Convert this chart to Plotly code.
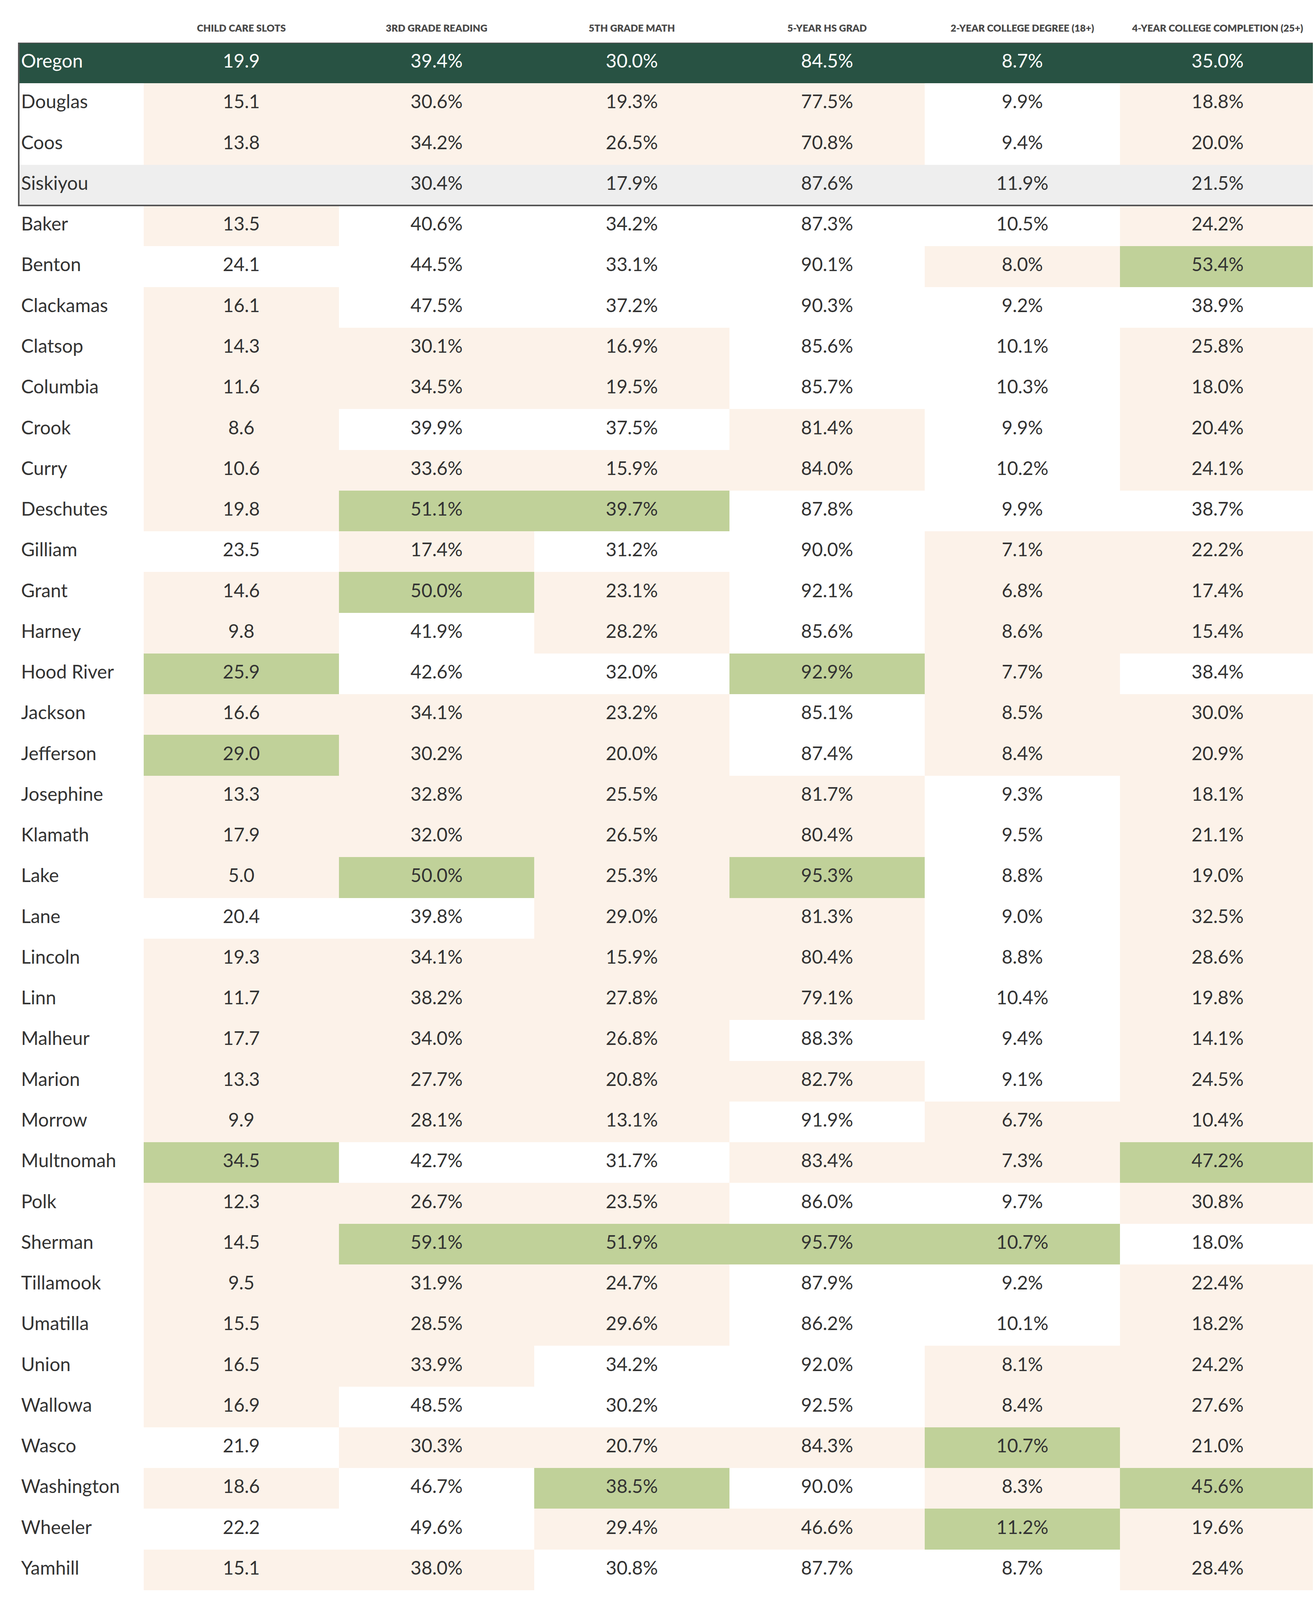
import plotly.graph_objects as go

# --- data -------------------------------------------------------------
headers = ["CHILD CARE SLOTS", "3RD GRADE READING", "5TH GRADE MATH",
           "5-YEAR HS GRAD", "2-YEAR COLLEGE DEGREE (18+)",
           "4-YEAR COLLEGE COMPLETION (25+)"]

counties = ["Oregon", "Douglas", "Coos", "Siskiyou", "Baker", "Benton", "Clackamas",
            "Clatsop", "Columbia", "Crook", "Curry", "Deschutes", "Gilliam", "Grant",
            "Harney", "Hood River", "Jackson", "Jefferson", "Josephine", "Klamath",
            "Lake", "Lane", "Lincoln", "Linn", "Malheur", "Marion", "Morrow",
            "Multnomah", "Polk", "Sherman", "Tillamook", "Umatilla", "Union",
            "Wallowa", "Wasco", "Washington", "Wheeler", "Yamhill"]

child_care = [19.9, 15.1, 13.8, None, 13.5, 24.1, 16.1, 14.3, 11.6, 8.6, 10.6, 19.8,
              23.5, 14.6, 9.8, 25.9, 16.6, 29.0, 13.3, 17.9, 5.0, 20.4, 19.3, 11.7,
              17.7, 13.3, 9.9, 34.5, 12.3, 14.5, 9.5, 15.5, 16.5, 16.9, 21.9, 18.6,
              22.2, 15.1]
reading = [39.4, 30.6, 34.2, 30.4, 40.6, 44.5, 47.5, 30.1, 34.5, 39.9, 33.6, 51.1,
           17.4, 50.0, 41.9, 42.6, 34.1, 30.2, 32.8, 32.0, 50.0, 39.8, 34.1, 38.2,
           34.0, 27.7, 28.1, 42.7, 26.7, 59.1, 31.9, 28.5, 33.9, 48.5, 30.3, 46.7,
           49.6, 38.0]
math = [30.0, 19.3, 26.5, 17.9, 34.2, 33.1, 37.2, 16.9, 19.5, 37.5, 15.9, 39.7,
        31.2, 23.1, 28.2, 32.0, 23.2, 20.0, 25.5, 26.5, 25.3, 29.0, 15.9, 27.8,
        26.8, 20.8, 13.1, 31.7, 23.5, 51.9, 24.7, 29.6, 34.2, 30.2, 20.7, 38.5,
        29.4, 30.8]
hs_grad = [84.5, 77.5, 70.8, 87.6, 87.3, 90.1, 90.3, 85.6, 85.7, 81.4, 84.0, 87.8,
           90.0, 92.1, 85.6, 92.9, 85.1, 87.4, 81.7, 80.4, 95.3, 81.3, 80.4, 79.1,
           88.3, 82.7, 91.9, 83.4, 86.0, 95.7, 87.9, 86.2, 92.0, 92.5, 84.3, 90.0,
           46.6, 87.7]
college_2yr = [8.7, 9.9, 9.4, 11.9, 10.5, 8.0, 9.2, 10.1, 10.3, 9.9, 10.2, 9.9,
               7.1, 6.8, 8.6, 7.7, 8.5, 8.4, 9.3, 9.5, 8.8, 9.0, 8.8, 10.4,
               9.4, 9.1, 6.7, 7.3, 9.7, 10.7, 9.2, 10.1, 8.1, 8.4, 10.7, 8.3,
               11.2, 8.7]
college_4yr = [35.0, 18.8, 20.0, 21.5, 24.2, 53.4, 38.9, 25.8, 18.0, 20.4, 24.1, 38.7,
               22.2, 17.4, 15.4, 38.4, 30.0, 20.9, 18.1, 21.1, 19.0, 32.5, 28.6, 19.8,
               14.1, 24.5, 10.4, 47.2, 30.8, 18.0, 22.4, 18.2, 24.2, 27.6, 21.0, 45.6,
               19.6, 28.4]

# shading class per cell: D=state row, S=comparison row, W=no flag, C=below state, G=top
shading = ["DDDDDD", "CCCCWC", "CCCCWC", "SSSSSS", "CWWWWC", "WWWWCG", "CWWWWW",
           "CCCWWC", "CCCWWC", "CWWCWC", "CCCCWC", "CGGWWW", "WCWWCC", "CGCWCC",
           "CWCWCC", "GWWGCW", "CCCWCC", "GCCWCC", "CCCCWC", "CCCCWC", "CGCGWC",
           "WWCCWC", "CCCCWC", "CCCCWC", "CCCWWC", "CCCCWC", "CCCWCC", "GWWCCG",
           "CCCWWC", "CGGGGW", "CCCWWC", "CCCWWC", "CCWWCC", "CWWWCC", "WCCCGC",
           "CWGWCG", "WWCCGC", "CCWWWC"]
n_boxed = 4  # Oregon + the three comparison counties

# --- style ------------------------------------------------------------
W, H = 3370, 4100
TABLE_LEFT, LABEL_W, COL_W = 40, 320, 500
FONT = "Lato"
TEXT = "#333333"
codes = {"W": 0, "C": 1, "G": 2, "S": 3, "D": 4}
colorscale = [[0, "#ffffff"], [0.125, "#ffffff"],
              [0.125, "#fcf2e9"], [0.375, "#fcf2e9"],
              [0.375, "#c0d199"], [0.625, "#c0d199"],
              [0.625, "#eeeeee"], [0.875, "#eeeeee"],
              [0.875, "#285243"], [1, "#285243"]]

columns = [child_care, reading, math, hs_grad, college_2yr, college_4yr]
suffix = ["", "%", "%", "%", "%", "%"]

edges = [TABLE_LEFT, TABLE_LEFT + LABEL_W] + [TABLE_LEFT + LABEL_W + COL_W * (i + 1) for i in range(len(columns))]
centers = [(edges[i] + edges[i + 1]) / 2 for i in range(1, len(edges) - 1)]
rows = list(range(len(counties)))
text_colors = ["#ffffff" if s[0] == "D" else TEXT for s in shading]

z = []
for s in shading:
    label_code = codes[s[0]] if s[0] in "DS" else 0
    z.append([label_code] + [codes[ch] for ch in s])

fig = go.Figure()
fig.add_trace(go.Heatmap(
    x=edges, y=rows, z=z, zmin=0, zmax=4, colorscale=colorscale,
    showscale=False, hoverinfo="skip", xgap=0, ygap=0,
))

for col, vals in enumerate(columns):
    txt = ["" if v is None else f"{v:.1f}{suffix[col]}" for v in vals]
    fig.add_trace(go.Scatter(
        x=[centers[col]] * len(rows), y=rows, mode="text", text=txt,
        textposition="middle center", hoverinfo="skip",
        textfont=dict(family=FONT, size=48, color=text_colors),
    ))

fig.add_trace(go.Scatter(
    x=[TABLE_LEFT + 6] * len(rows), y=rows, mode="text", text=counties,
    textposition="middle right", hoverinfo="skip",
    textfont=dict(family=FONT, size=48, color=text_colors),
))

# frame around the state + region rows
fig.add_shape(type="rect", xref="x", yref="y", x0=edges[0], x1=edges[-1],
              y0=-0.5, y1=n_boxed - 0.5, line=dict(color="#555555", width=4),
              fillcolor="rgba(0,0,0,0)", layer="above")

fig.update_layout(
    width=W, height=H, showlegend=False,
    margin=dict(l=0, r=0, t=101, b=37),
    paper_bgcolor="white", plot_bgcolor="white",
    xaxis=dict(range=[0, W], side="top", tickvals=centers, ticktext=headers,
               tickfont=dict(family=FONT, size=25, color="#4a4a4a", weight=800),
               showgrid=False, zeroline=False, showline=False, ticks="",
               ticklabelstandoff=22, fixedrange=True),
    yaxis=dict(range=[len(rows) - 0.5, -0.5], showticklabels=False,
               showgrid=False, zeroline=False, showline=False, fixedrange=True),
)

fig.write_html("out.html")
